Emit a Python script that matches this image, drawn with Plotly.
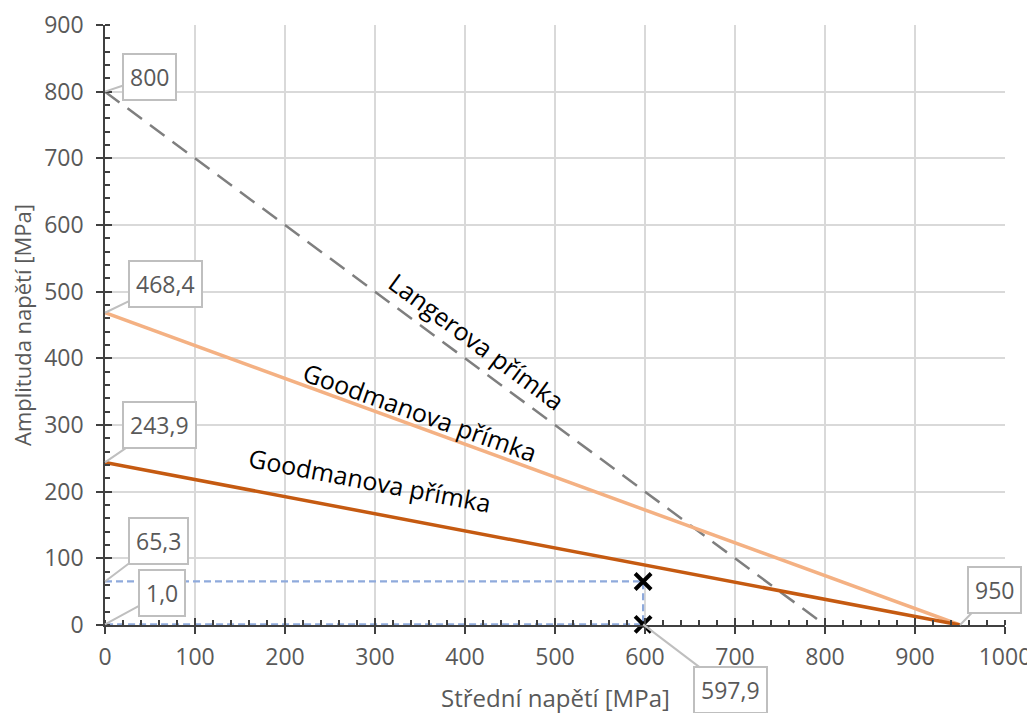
import plotly.graph_objects as go

# Data
langer_x = [0, 800]
langer_y = [800, 0]
good1_x = [0, 950]
good1_y = [468.4, 0]
good2_x = [0, 950]
good2_y = [243.9, 0]
work_x = [0, 597.9, 597.9, 0]
work_y = [65.3, 65.3, 1.0, 1.0]
pts_x = [597.9, 597.9]
pts_y = [65.3, 1.0]

callouts = [
    (0, 800, "800", 44, -15),
    (0, 468.4, "468,4", 60, -29),
    (0, 243.9, "243,9", 54, -37),
    (0, 65.3, "65,3", 53, -40),
    (0, 1.0, "1,0", 57, -31),
    (950, 0, "950", 34, -35),
    (597.9, 1.0, "597,9", 87, 66),
]

line_labels = [
    (413, 426, "Langerova přímka", 36.5),
    (350, 319, "Goodmanova přímka", 19.6),
    (294, 217, "Goodmanova přímka", 10.8),
]

FONT = "Open Sans"
GRAY_TXT = "#595959"
fig = go.Figure()

fig.add_trace(go.Scatter(x=langer_x, y=langer_y, mode="lines",
                         line=dict(color="#7f7f7f", width=2.5, dash="18px,10px"),
                         showlegend=False, hoverinfo="skip"))
fig.add_trace(go.Scatter(x=good1_x, y=good1_y, mode="lines",
                         line=dict(color="#f4b183", width=3.5),
                         showlegend=False, hoverinfo="skip"))
fig.add_trace(go.Scatter(x=good2_x, y=good2_y, mode="lines",
                         line=dict(color="#c55a11", width=3.5),
                         showlegend=False, hoverinfo="skip"))
fig.add_trace(go.Scatter(x=work_x, y=work_y, mode="lines",
                         line=dict(color="#8faadc", width=2.2, dash="7px,4px"),
                         showlegend=False, hoverinfo="skip"))
fig.add_trace(go.Scatter(x=pts_x, y=pts_y, mode="markers", cliponaxis=False,
                         marker=dict(symbol="x-thin", size=16,
                                     line=dict(color="black", width=4)),
                         showlegend=False, hoverinfo="skip"))

# invisible trace on overlay axes (inner half of crossing major ticks)
fig.add_trace(go.Scatter(x=[0], y=[0], xaxis="x2", yaxis="y2", mode="markers",
                         marker=dict(opacity=0), showlegend=False, hoverinfo="skip"))

axis_common = dict(showline=True, linecolor="#404040", linewidth=1.5,
                   gridcolor="#d9d9d9", gridwidth=2,
                   ticks="outside", ticklen=7, tickcolor="#404040", tickwidth=1.5,
                   tickfont=dict(family=FONT, size=23, color=GRAY_TXT),
                   zeroline=False, automargin=False,
                   minor=dict(ticks="inside", ticklen=5, tickcolor="#404040",
                              tickwidth=1.5, dtick=20, showgrid=False))

# page body has an 8px margin, so the figure is sized/positioned to compensate
fig.update_layout(
    width=1027, height=705,
    margin=dict(l=97, r=30, t=17, b=88),
    plot_bgcolor="white", paper_bgcolor="white",
    xaxis=dict(range=[0, 1000], dtick=100, ticklabelstandoff=4, **axis_common),
    yaxis=dict(range=[0, 900], dtick=100, ticklabelstandoff=8, **axis_common),
    xaxis2=dict(range=[0, 1000], dtick=100, overlaying="x", side="bottom",
                ticks="inside", ticklen=7, tickcolor="#404040", tickwidth=1.5,
                showticklabels=False, showgrid=False, showline=False,
                zeroline=False, automargin=False),
    yaxis2=dict(range=[0, 900], dtick=100, overlaying="y", side="left",
                ticks="inside", ticklen=7, tickcolor="#404040", tickwidth=1.5,
                showticklabels=False, showgrid=False, showline=False,
                zeroline=False, automargin=False),
)

# axis titles
fig.add_annotation(text="Střední napětí [MPa]", xref="paper", yref="paper",
                   x=0.5, y=0, yshift=-72, xanchor="center", yanchor="middle",
                   showarrow=False,
                   font=dict(family=FONT, size=24, color=GRAY_TXT))
fig.add_annotation(text="Amplituda napětí [MPa]", xref="paper", yref="paper",
                   x=0, y=0.5, xshift=-83, xanchor="center", yanchor="middle",
                   textangle=-90, showarrow=False,
                   font=dict(family=FONT, size=22, color=GRAY_TXT))

for x, y, t, ax, ay in callouts:
    fig.add_annotation(x=x, y=y, text=t, showarrow=True, arrowhead=0,
                       arrowcolor="#bfbfbf", arrowwidth=2,
                       ax=ax, ay=ay, bgcolor="white", bordercolor="#bfbfbf",
                       borderwidth=2, borderpad=6,
                       font=dict(family=FONT, size=23, color=GRAY_TXT))

for x, y, t, ang in line_labels:
    fig.add_annotation(x=x, y=y, text=t, showarrow=False, textangle=ang,
                       font=dict(family=FONT, size=25, color="black"))

fig.write_html("out.html")
